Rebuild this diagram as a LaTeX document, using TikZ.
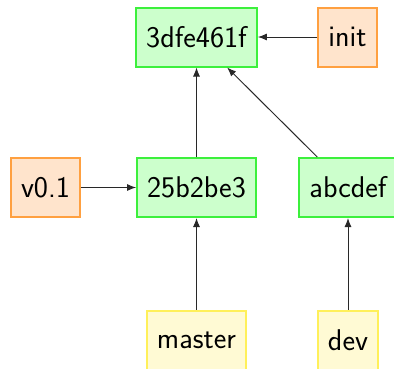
\documentclass[tikz,border=0pt]{standalone}
\usepackage{fontspec}
\usetikzlibrary{arrows.meta}
\definecolor{gfill}{RGB}{204,255,204}
\definecolor{gdraw}{RGB}{60,240,60}
\definecolor{ofill}{RGB}{255,228,204}
\definecolor{odraw}{RGB}{255,160,64}
\definecolor{yfill}{RGB}{255,250,212}
\definecolor{ydraw}{RGB}{255,240,90}
\definecolor{edgec}{RGB}{40,40,40}
\tikzset{
  box/.style={rectangle, line width=2pt, minimum height=59pt, inner xsep=10pt, inner ysep=0pt,
    font=\sffamily\fontsize{30}{36}\selectfont},
  commit/.style={box, draw=gdraw, fill=gfill},
  tagbox/.style={box, draw=odraw, fill=ofill},
  branch/.style={box, draw=ydraw, fill=yfill},
  link/.style={draw=edgec, line width=1pt, -{Latex[length=9pt,width=7pt]}}
}
\begin{document}
\begin{tikzpicture}[x=1pt,y=-1pt]
\useasboundingbox (0,0) rectangle (394,368);
\node[commit] (c1) at (196.5,37) {3dfe461f};
\node[tagbox] (init) at (347.5,37) {init};
\node[tagbox] (v01) at (45.5,187.5) {v0.1};
\node[commit] (c2) at (196.5,187.5) {25b2be3};
\node[commit] (c3) at (348,187.5) {abcdef};
\node[branch] (master) at (196.5,340) {master};
\node[branch] (dev) at (348,340) {dev};
\draw[link] (init) -- (c1);
\draw[link] (c2) -- (c1);
\draw[link] (c3) -- (c1);
\draw[link] (v01) -- (c2);
\draw[link] (master) -- (c2);
\draw[link] (dev) -- (c3);
\end{tikzpicture}
\end{document}
